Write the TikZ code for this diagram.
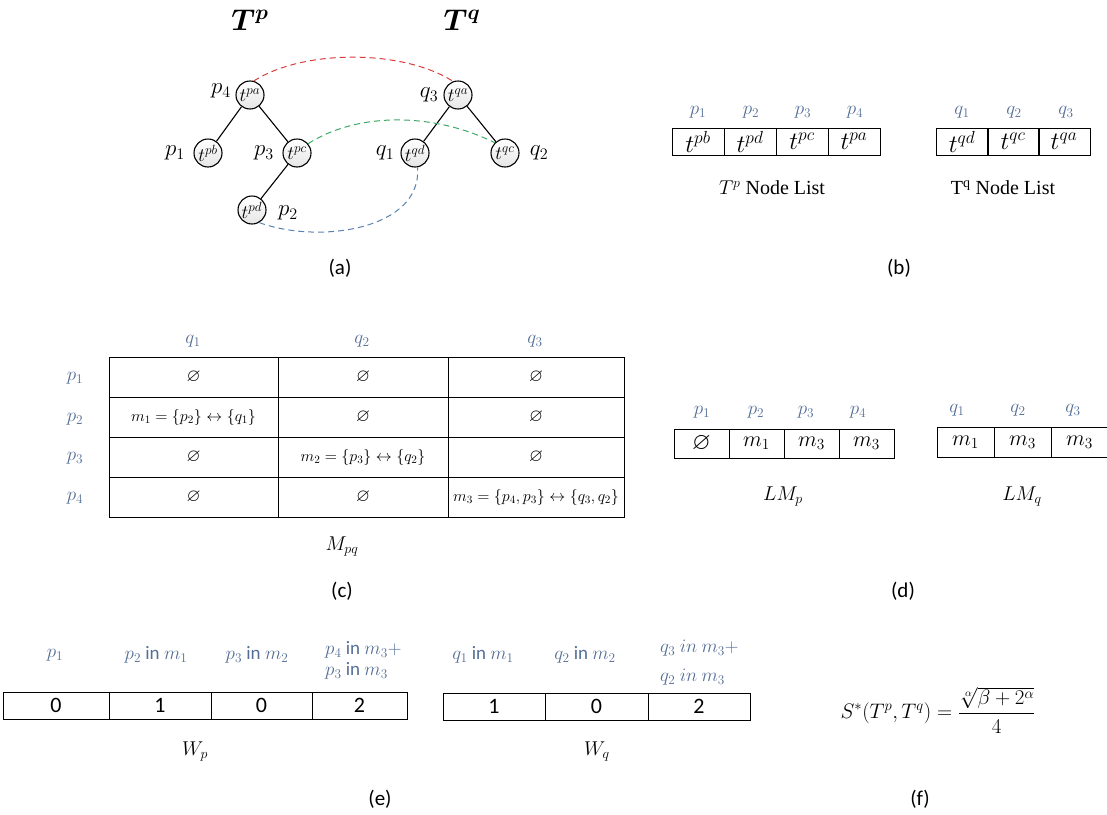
\RequirePackage{fix-cm}
\documentclass[tikz,border=0pt]{standalone}
\usepackage{amssymb}
\usepackage{bm}
\usepackage[no-math]{fontspec}
\setmainfont{Carlito}
\newfontfamily\serifcap{Liberation Serif}
\definecolor{hdr}{RGB}{84,110,150}
\definecolor{linkred}{RGB}{214,60,60}
\definecolor{linkgreen}{RGB}{60,170,100}
\definecolor{linkblue}{RGB}{90,130,175}
\begin{document}
\begin{tikzpicture}[x=1pt,y=-1pt,
  tnode/.style={circle, draw, line width=1.1pt, minimum size=28pt, inner sep=0pt,
                top color=white, middle color=white, bottom color=gray!20,
                font=\fontsize{19}{21}\selectfont},
  tlabel/.style={font=\fontsize{23}{25}\selectfont},
  tedge/.style={line width=1.1pt},
  link/.style={dashed, line width=1pt, dash pattern=on 6pt off 4pt},
  hdrlab/.style={text=hdr, font=\fontsize{19}{21}\selectfont, inner sep=0pt},
  cellbox/.style={draw, line width=1pt, inner sep=0pt, outer sep=0pt},
  captxt/.style={font=\fontsize{21}{24}\selectfont},
  sub/.style={font=\fontsize{20}{22}\selectfont},
]
\useasboundingbox (0,0) rectangle (1107,814);

% ---------- (a) the two trees ----------
\node[font=\fontsize{30}{34}\selectfont] (Tp) at (250,20) {$\bm{T^p}$};
\node[font=\fontsize{30}{34}\selectfont] (Tq) at (462,20) {$\bm{T^q}$};

\node[tnode] (tpa) at (250,95)  {$t^{pa}$};
\node[tnode] (tpb) at (208,153) {$t^{pb}$};
\node[tnode] (tpc) at (297,153) {$t^{pc}$};
\node[tnode] (tpd) at (252,210) {$t^{pd}$};
\node[tnode] (tqa) at (458,95)  {$t^{qa}$};
\node[tnode] (tqd) at (415,153) {$t^{qd}$};
\node[tnode] (tqc) at (505,153) {$t^{qc}$};

\node[tlabel] (lp4) at (221,91)  {$p_4$};
\node[tlabel] (lp1) at (175,153) {$p_1$};
\node[tlabel] (lp3) at (264,153) {$p_3$};
\node[tlabel] (lp2) at (288,213) {$p_2$};
\node[tlabel] (lq3) at (429,95)  {$q_3$};
\node[tlabel] (lq1) at (385,153) {$q_1$};
\node[tlabel] (lq2) at (539,153) {$q_2$};

\draw[tedge] (tpa) -- (tpb);
\draw[tedge] (tpa) -- (tpc);
\draw[tedge] (tpc) -- (tpd);
\draw[tedge] (tqa) -- (tqd);
\draw[tedge] (tqa) -- (tqc);

\draw[link, linkred] (tpa.75) .. controls +(50,-32) and +(-50,-32) .. (tqa.110);
\draw[link, linkgreen] (tpc.40) .. controls +(50,-32) and +(-60,-30) .. (tqc.135);
\draw[link, linkblue] (tpd.-60) .. controls +(60,22) and +(5,62) .. (tqd.-80);

\node[captxt] (capa) at (340,268) {(a)};

% ---------- (b) node lists ----------
\node[hdrlab] (bhp1) at (698,112) {$p_1$};
\node[hdrlab] (bhp2) at (751,112) {$p_2$};
\node[hdrlab] (bhp3) at (803,112) {$p_3$};
\node[hdrlab] (bhp4) at (855,112) {$p_4$};
\begin{scope}[every node/.style={cellbox, minimum width=52pt, minimum height=27pt, font=\fontsize{25}{27}\selectfont}]
\node (bp1) at (698,141.5) {$t^{pb}$};
\node (bp2) at (750,141.5) {$t^{pd}$};
\node (bp3) at (802,141.5) {$t^{pc}$};
\node (bp4) at (854,141.5) {$t^{pa}$};
\node (bq1) at (962,141.5) {$t^{qd}$};
\node (bq2) at (1013,141.5) {$t^{qc}$};
\node (bq3) at (1064,141.5) {$t^{qa}$};
\end{scope}
\node[hdrlab] (bhq1) at (962,112) {$q_1$};
\node[hdrlab] (bhq2) at (1014,112) {$q_2$};
\node[hdrlab] (bhq3) at (1066,112) {$q_3$};
\node[font=\serifcap\fontsize{20}{22}\selectfont] (capTp) at (772,188) {$T^p$ Node List};
\node[font=\serifcap\fontsize{20}{22}\selectfont] (capTq) at (1003,188) {T\textsuperscript{q} Node List};
\node[captxt] (capb) at (899,268) {(b)};

% ---------- (c) matching matrix ----------
\node[hdrlab] (cq1) at (193,341) {$q_1$};
\node[hdrlab] (cq2) at (362,341) {$q_2$};
\node[hdrlab] (cq3) at (535,341) {$q_3$};
\node[hdrlab] (cp1) at (75,378) {$p_1$};
\node[hdrlab] (cp2) at (75,419) {$p_2$};
\node[hdrlab] (cp3) at (75,458) {$p_3$};
\node[hdrlab] (cp4) at (75,498) {$p_4$};
\begin{scope}[every node/.style={cellbox, minimum height=40pt, font=\fontsize{16}{18}\selectfont}]
\node[minimum width=169pt] (c11) at (193.5,377) {\fontsize{18}{20}\selectfont$\varnothing$};
\node[minimum width=170pt] (c12) at (363,377)   {\fontsize{18}{20}\selectfont$\varnothing$};
\node[minimum width=176pt] (c13) at (536,377)   {\fontsize{18}{20}\selectfont$\varnothing$};
\node[minimum width=169pt] (c21) at (193.5,417) {$m_1=\{p_2\}\leftrightarrow\{q_1\}$};
\node[minimum width=170pt] (c22) at (363,417)   {\fontsize{18}{20}\selectfont$\varnothing$};
\node[minimum width=176pt] (c23) at (536,417)   {\fontsize{18}{20}\selectfont$\varnothing$};
\node[minimum width=169pt] (c31) at (193.5,457) {\fontsize{18}{20}\selectfont$\varnothing$};
\node[minimum width=170pt] (c32) at (363,457)   {$m_2=\{p_3\}\leftrightarrow\{q_2\}$};
\node[minimum width=176pt] (c33) at (536,457)   {\fontsize{18}{20}\selectfont$\varnothing$};
\node[minimum width=169pt] (c41) at (193.5,497) {\fontsize{18}{20}\selectfont$\varnothing$};
\node[minimum width=170pt] (c42) at (363,497)   {\fontsize{18}{20}\selectfont$\varnothing$};
\node[minimum width=176pt] (c43) at (536,497)   {$m_3=\{p_4,p_3\}\leftrightarrow\{q_3,q_2\}$};
\end{scope}
\node[sub] (capM) at (342,547) {$M_{pq}$};
\node[captxt] (capc) at (342,591) {(c)};

% ---------- (d) match lists ----------
\node[hdrlab] (dhp1) at (702,412) {$p_1$};
\node[hdrlab] (dhp2) at (756,412) {$p_2$};
\node[hdrlab] (dhp3) at (806,412) {$p_3$};
\node[hdrlab] (dhp4) at (858,412) {$p_4$};
\begin{scope}[every node/.style={cellbox, minimum width=55pt, minimum height=29pt, font=\fontsize{22}{24}\selectfont}]
\node (dp1) at (701.5,443.5) {\fontsize{24}{26}\selectfont$\varnothing$};
\node (dp2) at (756.5,443.5) {$m_1$};
\node (dp3) at (811.5,443.5) {$m_3$};
\node (dp4) at (866.5,443.5) {$m_3$};
\end{scope}
\begin{scope}[every node/.style={cellbox, minimum width=57pt, minimum height=30pt, font=\fontsize{22}{24}\selectfont}]
\node (dq1) at (965.5,442) {$m_1$};
\node (dq2) at (1022.5,442) {$m_3$};
\node (dq3) at (1079.5,442) {$m_3$};
\end{scope}
\node[hdrlab] (dhq1) at (957,410) {$q_1$};
\node[hdrlab] (dhq2) at (1018,410) {$q_2$};
\node[hdrlab] (dhq3) at (1073,410) {$q_3$};
\node[sub] (capLMp) at (783,497) {$LM_p$};
\node[sub] (capLMq) at (1022,497) {$LM_q$};
\node[captxt] (capd) at (903,591) {(d)};

% ---------- (e) weight vectors ----------
\node[hdrlab] (ehp1) at (55,655) {$p_1$};
\node[hdrlab] (ehp2) at (156,655) {$p_2$ in $m_1$};
\node[hdrlab] (ehp3) at (257,655) {$p_3$ in $m_2$};
\node[hdrlab, anchor=west] (ehp4a) at (325,650) {$p_4$ in $m_3+$};
\node[hdrlab, anchor=west] (ehp4b) at (325,671) {$p_3$ in $m_3$};
\begin{scope}[every node/.style={cellbox, minimum height=27pt, font=\fontsize{22}{24}\selectfont}]
\node[minimum width=106pt] (w1) at (56,705.5)    {0};
\node[minimum width=102pt] (w2) at (160,705.5)   {1};
\node[minimum width=101pt] (w3) at (261.5,705.5) {0};
\node[minimum width=95pt]  (w4) at (359.5,705.5) {2};
\node[minimum width=102pt] (v1) at (494,706.5)   {1};
\node[minimum width=103pt] (v2) at (596.5,706.5) {0};
\node[minimum width=102pt] (v3) at (699,706.5)   {2};
\end{scope}
\node[hdrlab] (ehq1) at (483,655) {$q_1$ in $m_1$};
\node[hdrlab] (ehq2) at (585,655) {$q_2$ in $m_2$};
\node[hdrlab, anchor=west] (ehq3a) at (660,648) {$q_3\ in\ m_3+$};
\node[hdrlab, anchor=west] (ehq3b) at (660,677) {$q_2\ in\ m_3$};
\node[sub] (capWp) at (195,752) {$W_p$};
\node[sub] (capWq) at (597,752) {$W_q$};
\node[captxt] (cape) at (380,799) {(e)};

% ---------- (f) similarity score ----------
\node[font=\fontsize{21}{25}\selectfont] (score) at (938,710)
  {$\displaystyle S^{*}(T^p,T^q)=\frac{\sqrt[\alpha]{\beta+2^{\alpha}}}{4}$};
\node[captxt] (capf) at (920,799) {(f)};
\end{tikzpicture}
\end{document}
